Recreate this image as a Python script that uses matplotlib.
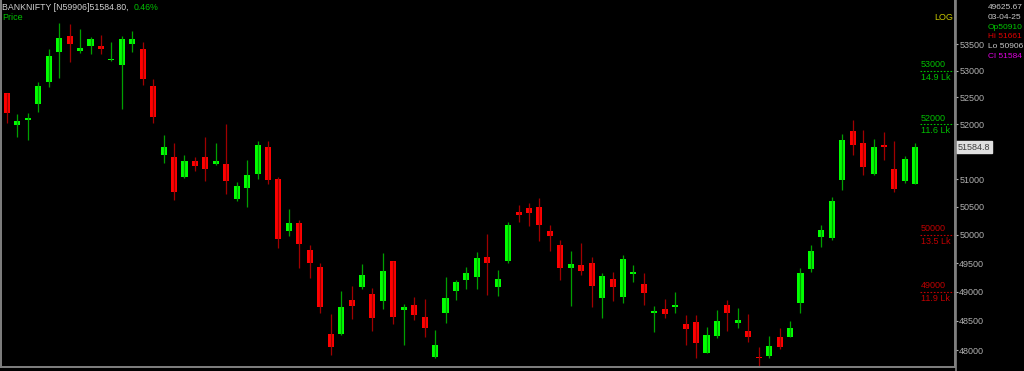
import matplotlib
matplotlib.use("Agg")
import matplotlib.pyplot as plt
import matplotlib.transforms as mtransforms
from matplotlib.ticker import NullLocator
import numpy as np

plt.rcParams['font.family'] = ['Liberation Sans', 'DejaVu Sans']

# daily candles, BANKNIFTY
opens = [52580, 51985, 52090, 52380, 52790, 53355, 53655, 53370, 53465, 53465,
         53200, 53110, 53505, 53410, 52715, 51440, 51400, 51040, 51330, 51400,
         51275, 51275, 50640, 50840, 51095, 51585, 51000, 50070, 50215, 49735,
         49435, 48275, 48275, 48860, 49085, 48965, 48845, 49540, 48685, 48775,
         48565, 47880, 48635, 49015, 49210, 49260, 49610, 49085, 49540, 50410,
         50480, 50500, 50070, 49820, 49420, 49470, 49505, 48895, 49225, 48910,
         49315, 49140, 48635, 48705, 48740, 48445, 48480, 47950, 48240, 48775,
         48460, 48325, 47880, 47895, 48225, 48225, 48810, 49400, 49965, 49945,
         50985, 51880, 51660, 51095, 51620, 51185, 50965, 50910]
highs = [52590, 52195, 52210, 52790, 53410, 53905, 53885, 53790, 53640, 53675,
         53540, 53655, 53750, 53540, 52845, 51805, 51660, 51440, 51400, 51770,
         51660, 52005, 50950, 51345, 51695, 51695, 51040, 50465, 50265, 49820,
         49505, 48620, 49015, 49105, 49490, 49070, 49680, 49545, 48790, 48910,
         48875, 48340, 49260, 49210, 49435, 49700, 50015, 49385, 50230, 50535,
         50570, 50660, 50175, 49910, 49715, 49855, 49610, 49330, 49350, 49645,
         49470, 49330, 48755, 48875, 49000, 48600, 48600, 48395, 48685, 48860,
         48720, 48620, 48050, 48240, 48375, 48495, 49420, 49820, 50175, 50680,
         51825, 52080, 51895, 51730, 51860, 51695, 51420, 51661]
lows = [52025, 51770, 51715, 52230, 52695, 52865, 53165, 53335, 53315, 53315,
        53180, 52285, 53355, 52730, 52025, 51295, 50625, 51030, 51145, 50965,
        51255, 50730, 50605, 50500, 51000, 50910, 49770, 49980, 49420, 49245,
        48635, 47915, 48265, 48530, 49050, 48325, 48705, 48445, 48085, 48515,
        48225, 47865, 48460, 48860, 49050, 49050, 48945, 48930, 49505, 50230,
        50160, 49895, 49715, 49210, 48755, 49295, 48740, 48550, 48845, 48810,
        49175, 48775, 48310, 48550, 48635, 48085, 47865, 47945, 48205, 48325,
        48375, 48135, 47710, 47865, 48015, 48215, 48635, 49350, 49785, 49910,
        50805, 51440, 51075, 51075, 51345, 50770, 50930, 50906]
closes = [52210, 52070, 52120, 52715, 53275, 53620, 53505, 53430, 53600, 53410,
          53220, 53600, 53600, 52845, 52135, 51585, 50770, 51330, 51240, 51185,
          51330, 50965, 50875, 51075, 51620, 50985, 49930, 50215, 49840, 49505,
          48740, 48050, 48740, 48755, 49295, 48550, 49365, 48565, 48740, 48600,
          48375, 48085, 48895, 49175, 49330, 49595, 49505, 49225, 50175, 50355,
          50390, 50175, 49980, 49420, 49490, 49365, 49105, 49280, 49085, 49575,
          49350, 48980, 48670, 48620, 48755, 48360, 48120, 48255, 48495, 48635,
          48515, 48225, 47865, 48070, 48050, 48375, 49330, 49715, 50090, 50605,
          51715, 51620, 51220, 51585, 51585, 50820, 51365, 51584.8]

price_ticks = [48000, 48500, 49000, 49500, 50000, 50500, 51000, 51500,
               52000, 52500, 53000, 53500]
levels = [53000, 52000, 50000, 49000]
level_qty = ["14.9 Lk", "11.6 Lk", "13.5 Lk", "11.9 Lk"]
level_colors = ["#00c000", "#00c000", "#c00000", "#c00000"]

info_lines = ["49625.67", "03-04-25", "Op50910", "Hi 51661", "Lo 50906", "Cl 51584"]
info_colors = ["#c8c8c8", "#c8c8c8", "#00c800", "#e00000", "#c8c8c8", "#e000e0"]

W, H = 1024, 371
FS = 6
fig = plt.figure(figsize=(W / 100, H / 100), dpi=100, facecolor="black")
ax = fig.add_axes([1 / W, 4 / H, 954 / W, 367 / H], facecolor="black")

o = np.array(opens, float)
h = np.array(highs, float)
l = np.array(lows, float)
c = np.array(closes, float)
idx = np.arange(len(o))
up = c >= o

ax.vlines(idx[up], l[up], h[up], color="#00a000", lw=0.9)
ax.vlines(idx[~up], l[~up], h[~up], color="#a00000", lw=0.9)
bot = np.minimum(o, c)
hgt = np.maximum(np.abs(c - o), 25)
ax.bar(idx[up], hgt[up], bottom=bot[up], width=0.58, color="#00ff00", lw=0)
ax.bar(idx[~up], hgt[~up], bottom=bot[~up], width=0.58, color="#ff0000", lw=0)

ax.set_yscale("log")
ax.set_ylim(47712, 54347)
ax.set_xlim(-0.575, 90.8)
ax.yaxis.tick_right()
ax.set_yticks(price_ticks)
# 51500 sits under the last-price box
ax.set_yticklabels(["" if p == 51500 else str(p) for p in price_ticks])
ax.yaxis.set_minor_locator(NullLocator())
ax.tick_params(axis="y", colors="#b0b0b0", labelsize=FS + 0.5, length=2, width=0.8, pad=1)
ax.set_xticks([])
ax.spines["top"].set_visible(False)
for s in ["left", "bottom", "right"]:
    ax.spines[s].set_color("#808080")
    ax.spines[s].set_linewidth(1.4)

# right border running the full height
fig.add_artist(plt.Line2D([955.5 / W, 955.5 / W], [0, 1], color="#808080", lw=1.2))

# level markers
bt = mtransforms.blended_transform_factory(ax.transAxes, ax.transData)
for lv, q, col in zip(levels, level_qty, level_colors):
    ax.plot([0.963, 1.0], [lv, lv], transform=bt, color=col, lw=0.8, ls=(0, (1.5, 1.5)))
    ax.annotate(str(lv), (0.964, lv), xycoords=bt, xytext=(0, 6), textcoords="offset pixels",
                color=col, fontsize=FS + 0.5, va="center", ha="left")
    ax.annotate(q, (0.964, lv), xycoords=bt, xytext=(0, -6.5), textcoords="offset pixels",
                color=col, fontsize=FS + 0.5, va="center", ha="left")

# last price box
ax.annotate(f"{closes[-1]:.1f}", (1.0, closes[-1]), xycoords=bt, xytext=(3, 0),
            textcoords="offset pixels", color="#404040", fontsize=FS + 0.5, va="center", ha="left",
            bbox=dict(boxstyle="square,pad=0.2", fc="#e0e0e0", ec="#e0e0e0"), zorder=5)

# header
hdr = fig.text(2 / W, 1 - 7 / H, "BANKNIFTY [N59906]51584.80,", color="#d0d0d0",
               fontsize=FS + 0.3, va="center")
fig.text(0, 0, "")
ax.annotate("0.46%", xy=(1, 0.5), xycoords=hdr, xytext=(5, 0), textcoords="offset pixels",
            color="#00c000", fontsize=FS + 0.3, va="center", ha="left", annotation_clip=False)
fig.text(2 / W, 1 - 17.5 / H, "Price", color="#00c000", fontsize=FS + 0.5, va="center")
fig.text(953 / W, 1 - 18 / H, "LOG", color="#c8c800", fontsize=FS + 0.5, va="center", ha="right")

for k, (t, col) in enumerate(zip(info_lines, info_colors)):
    fig.text(988 / W, 1 - (7.5 + 9.8 * k) / H, t, color=col, fontsize=FS, va="center")

fig.savefig("out.png", dpi=100, facecolor="black")
